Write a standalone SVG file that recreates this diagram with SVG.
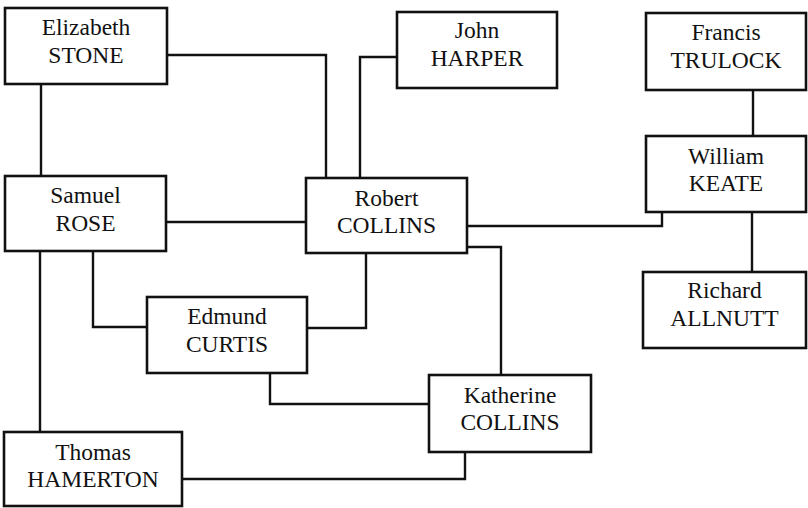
<svg xmlns="http://www.w3.org/2000/svg" width="808" height="508" viewBox="0 0 808 508">
<style>
.box{fill:#fff;stroke:#111;stroke-width:2.6}
.ln{fill:none;stroke:#111;stroke-width:2.4}
text{font-family:"Liberation Serif","Times New Roman",serif;font-size:23.5px;fill:#111;text-anchor:middle}
</style>
<rect width="808" height="508" fill="#fff"/>
<g id="connectors">
<path class="ln" d="M41,84 V176"/>
<path class="ln" d="M167,55 H326 V178"/>
<path class="ln" d="M360,178 V57 H397"/>
<path class="ln" d="M166,222 H306"/>
<path class="ln" d="M93,251 V327 H147"/>
<path class="ln" d="M40,251 V432"/>
<path class="ln" d="M366,253 V328 H307"/>
<path class="ln" d="M270,373 V404 H429"/>
<path class="ln" d="M182,479 H465 V452"/>
<path class="ln" d="M467,226 H662 V212"/>
<path class="ln" d="M467,247 H501 V375"/>
<path class="ln" d="M753,90 V136"/>
<path class="ln" d="M752,212 V272"/>
</g>
<g id="elizabeth-stone"><rect class="box" x="5" y="8" width="162" height="76"/><text x="86" y="35">Elizabeth</text><text x="86" y="63">STONE</text></g>
<g id="john-harper"><rect class="box" x="397" y="12" width="160" height="76"/><text x="477" y="38">John</text><text x="477" y="66">HARPER</text></g>
<g id="francis-trulock"><rect class="box" x="646" y="13" width="160" height="77"/><text x="726" y="40">Francis</text><text x="726" y="68">TRULOCK</text></g>
<g id="samuel-rose"><rect class="box" x="5" y="176" width="161" height="75"/><text x="85.5" y="203">Samuel</text><text x="85.5" y="231">ROSE</text></g>
<g id="robert-collins"><rect class="box" x="306" y="178" width="161" height="75"/><text x="386.5" y="206">Robert</text><text x="386.5" y="233">COLLINS</text></g>
<g id="william-keate"><rect class="box" x="646" y="136" width="160" height="76"/><text x="726" y="164">William</text><text x="726" y="191">KEATE</text></g>
<g id="richard-allnutt"><rect class="box" x="643" y="272" width="163" height="76"/><text x="724.5" y="298">Richard</text><text x="724.5" y="326">ALLNUTT</text></g>
<g id="edmund-curtis"><rect class="box" x="147" y="297" width="160" height="76"/><text x="227" y="324">Edmund</text><text x="227" y="352">CURTIS</text></g>
<g id="katherine-collins"><rect class="box" x="429" y="375" width="162" height="77"/><text x="510" y="403">Katherine</text><text x="510" y="430">COLLINS</text></g>
<g id="thomas-hamerton"><rect class="box" x="4" y="432" width="178" height="74"/><text x="93" y="460">Thomas</text><text x="93" y="487">HAMERTON</text></g>
</svg>
